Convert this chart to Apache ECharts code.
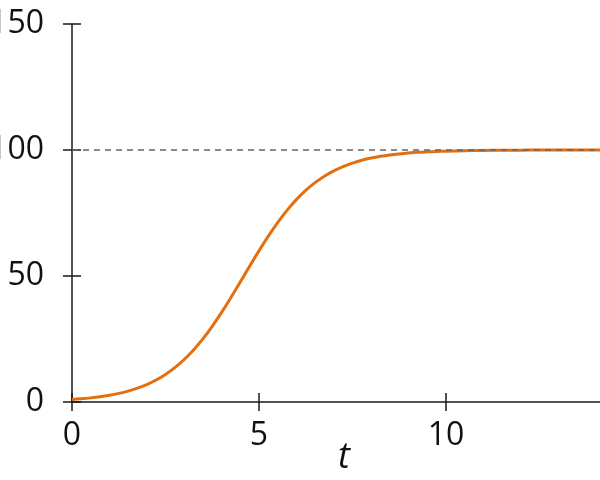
<!DOCTYPE html>
<html>
<head>
<meta charset="utf-8">
<script src="https://cdn.jsdelivr.net/npm/echarts@6/dist/echarts.min.js"></script>
<style>html,body{margin:0;padding:0;background:#fff}#c{width:600px;height:480px}</style>
</head>
<body>
<div id="c"></div>
<script>
const tValues = [0,0.25,0.5,0.75,1,1.25,1.5,1.75,2,2.25,2.5,2.75,3,3.25,3.5,3.75,4,4.25,4.5,4.75,5,5.25,5.5,5.75,6,6.25,6.5,6.75,7,7.25,7.5,7.75,8,8.25,8.5,8.75,9,9.25,9.5,9.75,10,10.5,11,11.5,12,12.5,13,13.5,14,14.5];
const yValues = [1.0,1.28,1.64,2.09,2.67,3.41,4.33,5.49,6.94,8.74,10.95,13.64,16.86,20.67,25.06,30.05,35.55,41.46,47.62,53.86,59.98,65.81,71.19,76.04,80.30,83.96,87.05,89.61,91.72,93.43,94.81,95.91,96.79,97.48,98.03,98.45,98.79,99.06,99.26,99.43,99.55,99.73,99.84,99.90,99.94,99.96,99.98,99.99,99.99,100.0];
const xTicks = [0,5,10];
const yTicks = [0,50,100,150];
const capacity = 100;

const FONT = '"Open Sans", sans-serif';
const axisColor = '#1a1a1a';
const tickStyle = {color:axisColor,width:1.5};
const chart = echarts.init(document.getElementById('c'), null, {renderer:'canvas'});
chart.setOption({
  animation:false,
  backgroundColor:'#fff',
  grid:{left:72,right:0,top:24,bottom:78,containLabel:false,outerBoundsMode:'none'},
  xAxis:[{
    type:'value',min:0,max:14.12,position:'bottom',
    name:'t',nameLocation:'middle',nameGap:47,nameMoveOverlap:false,
    nameTextStyle:{fontFamily:FONT,fontSize:36,fontStyle:'italic',color:'#111',padding:[0,0,0,16]},
    axisLine:{show:false,onZero:false},
    splitLine:{show:false},
    axisTick:{show:true,inside:false,length:18,lineStyle:tickStyle,customValues:xTicks},
    axisLabel:{show:true,margin:27,fontFamily:FONT,fontSize:32,color:'#111',customValues:xTicks},
    offset:-9
  },{
    type:'value',min:0,max:14.12,position:'bottom',
    axisLine:{show:true,onZero:false,lineStyle:{color:axisColor,width:1.5}},
    splitLine:{show:false},
    axisTick:{show:false},
    axisLabel:{show:false}
  }],
  yAxis:[{
    type:'value',min:0,max:150,position:'left',
    axisLine:{show:false,onZero:false},
    splitLine:{show:false},
    axisTick:{show:true,inside:false,length:18,lineStyle:tickStyle,customValues:yTicks},
    axisLabel:{show:true,margin:37,fontFamily:FONT,fontSize:32,color:'#111',customValues:yTicks},
    offset:-9
  },{
    type:'value',min:0,max:150,position:'left',
    axisLine:{show:true,onZero:false,lineStyle:{color:axisColor,width:1.5}},
    splitLine:{show:false},
    axisTick:{show:false},
    axisLabel:{show:false}
  }],
  series:[{
    type:'line',
    xAxisIndex:0,yAxisIndex:0,
    data:tValues.map((t,i)=>[t,yValues[i]]),
    smooth:0.4,showSymbol:false,clip:true,
    lineStyle:{color:'#e36f0e',width:3},
    z:2,
    markLine:{
      silent:true,symbol:'none',label:{show:false},
      lineStyle:{color:'#666',type:[6,5],width:1.5},
      data:[{yAxis:capacity}],
      z:5
    }
  }]
});
</script>
</body>
</html>
